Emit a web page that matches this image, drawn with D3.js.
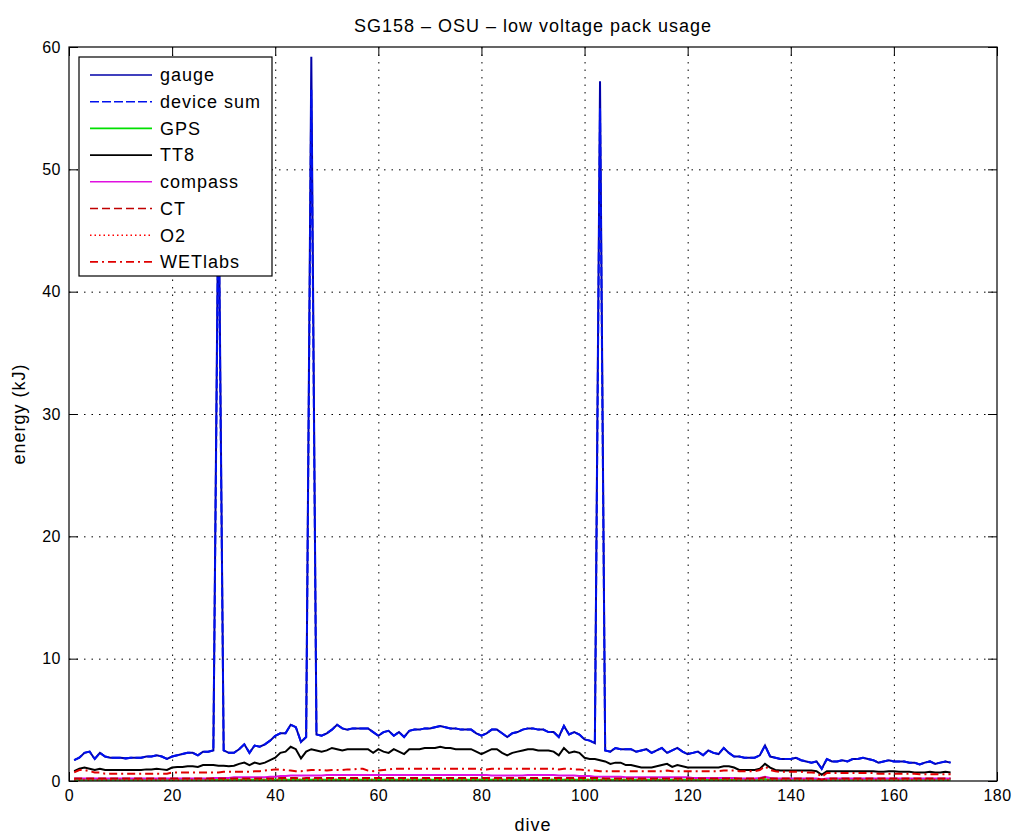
<!DOCTYPE html>
<html>
<head>
<meta charset="utf-8">
<script src="https://cdn.jsdelivr.net/npm/d3@7"></script>
<style>
  body { margin: 0; background: #fff; }
  svg { display: block; font-family: "Liberation Sans", Arial, sans-serif; }
  .tick text { font-size: 16px; fill: #000; letter-spacing: 0.5px; }
  .domain { display: none; }
  .tick line { stroke: #000; stroke-width: 1; }
</style>
</head>
<body>
<div id="chart"></div>
<script>
// dive numbers 1..171
const dives = d3.range(1, 172);

// energy (kJ) per dive
const gauge = [
  1.7, 1.9, 2.3, 2.4, 1.8, 2.3, 2.0, 1.9, 1.9, 1.9,
  1.85, 1.9, 1.9, 1.9, 2.0, 2.0, 2.1, 2.0, 1.8, 2.0,
  2.1, 2.2, 2.3, 2.3, 2.1, 2.4, 2.4, 2.5, 50, 2.5,
  2.3, 2.3, 2.6, 3.0, 2.3, 2.9, 2.8, 3.0, 3.3, 3.7,
  3.9, 3.9, 4.6, 4.4, 3.2, 3.6, 59.2, 3.8, 3.7, 3.9,
  4.2, 4.6, 4.3, 4.2, 4.3, 4.3, 4.3, 4.3, 4.0, 3.7,
  4.0, 4.1, 3.7, 4.0, 3.6, 4.1, 4.2, 4.2, 4.3, 4.3,
  4.4, 4.5, 4.4, 4.3, 4.3, 4.2, 4.2, 4.2, 3.9, 3.7,
  3.9, 4.2, 4.2, 3.9, 3.6, 3.9, 4.0, 4.2, 4.3, 4.3,
  4.2, 4.2, 4.0, 4.0, 3.6, 4.5, 3.8, 4.0, 3.8, 3.4,
  3.3, 3.1, 57.2, 2.5, 2.4, 2.7, 2.6, 2.6, 2.6, 2.4,
  2.5, 2.6, 2.3, 2.5, 2.7, 2.3, 2.5, 2.7, 2.4, 2.2,
  2.3, 2.4, 2.1, 2.5, 2.3, 2.2, 2.7, 2.3, 2.0, 2.0,
  1.9, 1.9, 1.9, 2.1, 2.9, 2.0, 1.9, 1.8, 1.8, 1.8,
  1.9, 1.7, 1.6, 1.5, 1.6, 1.0, 1.8, 1.6, 1.6, 1.7,
  1.6, 1.8, 1.8, 1.9, 1.8, 1.7, 1.5, 1.6, 1.7, 1.6,
  1.6, 1.6, 1.5, 1.5, 1.35, 1.5, 1.6, 1.4, 1.5, 1.6,
  1.5
];

const deviceSum = [
  1.7, 1.9, 2.3, 2.4, 1.8, 2.3, 2.0, 1.9, 1.9, 1.9,
  1.85, 1.9, 1.9, 1.9, 2.0, 2.0, 2.1, 2.0, 1.8, 2.0,
  2.1, 2.2, 2.3, 2.3, 2.1, 2.4, 2.4, 2.5, 48, 2.5,
  2.3, 2.3, 2.6, 3.0, 2.3, 2.9, 2.8, 3.0, 3.3, 3.7,
  3.9, 3.9, 4.6, 4.4, 3.2, 3.6, 56.5, 3.8, 3.7, 3.9,
  4.2, 4.6, 4.3, 4.2, 4.3, 4.3, 4.3, 4.3, 4.0, 3.7,
  4.0, 4.1, 3.7, 4.0, 3.6, 4.1, 4.2, 4.2, 4.3, 4.3,
  4.4, 4.5, 4.4, 4.3, 4.3, 4.2, 4.2, 4.2, 3.9, 3.7,
  3.9, 4.2, 4.2, 3.9, 3.6, 3.9, 4.0, 4.2, 4.3, 4.3,
  4.2, 4.2, 4.0, 4.0, 3.6, 4.5, 3.8, 4.0, 3.8, 3.4,
  3.3, 3.1, 55.0, 2.5, 2.4, 2.7, 2.6, 2.6, 2.6, 2.4,
  2.5, 2.6, 2.3, 2.5, 2.7, 2.3, 2.5, 2.7, 2.4, 2.2,
  2.3, 2.4, 2.1, 2.5, 2.3, 2.2, 2.7, 2.3, 2.0, 2.0,
  1.9, 1.9, 1.9, 2.1, 2.9, 2.0, 1.9, 1.8, 1.8, 1.8,
  1.9, 1.7, 1.6, 1.5, 1.6, 1.0, 1.8, 1.6, 1.6, 1.7,
  1.6, 1.8, 1.8, 1.9, 1.8, 1.7, 1.5, 1.6, 1.7, 1.6,
  1.6, 1.6, 1.5, 1.5, 1.35, 1.5, 1.6, 1.4, 1.5, 1.6,
  1.5
];

const gps = [
  0.1, 0.1, 0.1, 0.1, 0.1, 0.1, 0.1, 0.1, 0.1, 0.1,
  0.1, 0.1, 0.1, 0.1, 0.1, 0.1, 0.1, 0.1, 0.1, 0.1,
  0.1, 0.1, 0.1, 0.1, 0.1, 0.1, 0.1, 0.1, 0.1, 0.1,
  0.1, 0.1, 0.1, 0.1, 0.1, 0.1, 0.1, 0.1, 0.1, 0.1,
  0.1, 0.1, 0.1, 0.1, 0.1, 0.1, 0.1, 0.1, 0.1, 0.1,
  0.1, 0.1, 0.1, 0.1, 0.1, 0.1, 0.1, 0.1, 0.1, 0.1,
  0.1, 0.1, 0.1, 0.1, 0.1, 0.1, 0.1, 0.1, 0.1, 0.1,
  0.1, 0.1, 0.1, 0.1, 0.1, 0.1, 0.1, 0.1, 0.1, 0.1,
  0.1, 0.1, 0.1, 0.1, 0.1, 0.1, 0.1, 0.1, 0.1, 0.1,
  0.1, 0.1, 0.1, 0.1, 0.1, 0.1, 0.1, 0.1, 0.1, 0.1,
  0.1, 0.1, 0.1, 0.1, 0.1, 0.1, 0.1, 0.1, 0.1, 0.1,
  0.1, 0.1, 0.1, 0.1, 0.1, 0.1, 0.1, 0.1, 0.1, 0.1,
  0.1, 0.1, 0.1, 0.1, 0.1, 0.1, 0.1, 0.1, 0.1, 0.1,
  0.1, 0.1, 0.1, 0.1, 0.15, 0.1, 0.1, 0.1, 0.1, 0.1,
  0.1, 0.1, 0.1, 0.1, 0.1, 0.1, 0.1, 0.1, 0.1, 0.1,
  0.1, 0.1, 0.1, 0.1, 0.1, 0.1, 0.1, 0.1, 0.1, 0.1,
  0.1, 0.1, 0.1, 0.1, 0.1, 0.1, 0.1, 0.1, 0.1, 0.1,
  0.1
];

const tt8 = [
  0.8, 1.0, 1.1, 1.0, 0.9, 1.0, 0.9, 0.9, 0.9, 0.9,
  0.9, 0.9, 0.9, 0.9, 0.95, 0.95, 1.0, 0.95, 0.9, 1.1,
  1.15, 1.15, 1.2, 1.2, 1.15, 1.3, 1.3, 1.3, 1.25, 1.25,
  1.2, 1.25, 1.4, 1.5, 1.3, 1.5, 1.4, 1.5, 1.7, 1.9,
  2.3, 2.4, 2.8, 2.6, 1.85, 2.4, 2.6, 2.5, 2.4, 2.5,
  2.7, 2.6, 2.5, 2.6, 2.6, 2.6, 2.6, 2.6, 2.3, 2.6,
  2.4, 2.3, 2.6, 2.4, 2.2, 2.6, 2.6, 2.6, 2.7, 2.7,
  2.7, 2.8, 2.7, 2.7, 2.6, 2.6, 2.6, 2.6, 2.4, 2.2,
  2.4, 2.6, 2.6, 2.3, 2.1, 2.3, 2.4, 2.5, 2.6, 2.6,
  2.5, 2.5, 2.5, 2.4, 2.1, 2.7, 2.3, 2.4, 2.3, 1.9,
  1.8, 1.8, 1.7, 1.6, 1.4, 1.5, 1.5, 1.3, 1.3, 1.2,
  1.1, 1.1, 1.1, 1.2, 1.3, 1.4, 1.15, 1.3, 1.2, 1.1,
  1.1, 1.1, 1.1, 1.1, 1.1, 1.1, 1.2, 1.2, 1.1, 0.9,
  0.9, 0.9, 0.9, 1.0, 1.4, 1.1, 0.9, 0.85, 0.85, 0.85,
  0.85, 0.85, 0.85, 0.85, 0.8, 0.5, 0.8, 0.8, 0.8, 0.8,
  0.8, 0.8, 0.8, 0.8, 0.8, 0.8, 0.75, 0.75, 0.8, 0.8,
  0.75, 0.75, 0.75, 0.7, 0.7, 0.7, 0.75, 0.7, 0.7, 0.75,
  0.7
];

const compass = [
  0.2, 0.2, 0.2, 0.2, 0.2, 0.2, 0.2, 0.2, 0.2, 0.2,
  0.2, 0.2, 0.2, 0.2, 0.2, 0.2, 0.2, 0.2, 0.2, 0.2,
  0.2, 0.2, 0.2, 0.2, 0.2, 0.2, 0.2, 0.25, 0.25, 0.25,
  0.25, 0.3, 0.3, 0.3, 0.3, 0.3, 0.3, 0.3, 0.35, 0.35,
  0.4, 0.4, 0.45, 0.45, 0.45, 0.45, 0.45, 0.45, 0.45, 0.5,
  0.5, 0.5, 0.5, 0.5, 0.5, 0.5, 0.5, 0.5, 0.5, 0.5,
  0.5, 0.5, 0.5, 0.5, 0.5, 0.5, 0.5, 0.5, 0.5, 0.5,
  0.5, 0.5, 0.5, 0.5, 0.5, 0.5, 0.5, 0.5, 0.5, 0.5,
  0.5, 0.45, 0.45, 0.45, 0.45, 0.45, 0.45, 0.45, 0.5, 0.5,
  0.5, 0.5, 0.5, 0.5, 0.45, 0.45, 0.45, 0.45, 0.4, 0.4,
  0.4, 0.35, 0.35, 0.35, 0.35, 0.35, 0.35, 0.3, 0.3, 0.3,
  0.3, 0.3, 0.3, 0.3, 0.3, 0.3, 0.3, 0.3, 0.3, 0.3,
  0.25, 0.25, 0.25, 0.25, 0.25, 0.25, 0.25, 0.25, 0.25, 0.2,
  0.2, 0.2, 0.2, 0.25, 0.35, 0.25, 0.2, 0.2, 0.2, 0.2,
  0.2, 0.2, 0.2, 0.2, 0.2, 0.15, 0.2, 0.2, 0.2, 0.2,
  0.2, 0.2, 0.2, 0.2, 0.2, 0.2, 0.2, 0.2, 0.2, 0.2,
  0.2, 0.2, 0.2, 0.2, 0.2, 0.2, 0.2, 0.2, 0.2, 0.2,
  0.2
];

const ct = [
  0.2, 0.2, 0.2, 0.2, 0.2, 0.2, 0.2, 0.2, 0.2, 0.2,
  0.2, 0.2, 0.2, 0.2, 0.2, 0.2, 0.2, 0.2, 0.2, 0.2,
  0.2, 0.2, 0.2, 0.2, 0.2, 0.2, 0.2, 0.2, 0.2, 0.2,
  0.2, 0.2, 0.2, 0.2, 0.2, 0.2, 0.2, 0.2, 0.2, 0.2,
  0.25, 0.25, 0.25, 0.25, 0.2, 0.25, 0.25, 0.25, 0.25, 0.25,
  0.25, 0.25, 0.25, 0.25, 0.25, 0.25, 0.25, 0.25, 0.25, 0.25,
  0.25, 0.25, 0.25, 0.25, 0.25, 0.25, 0.25, 0.25, 0.25, 0.25,
  0.25, 0.25, 0.25, 0.25, 0.25, 0.25, 0.25, 0.25, 0.25, 0.25,
  0.25, 0.25, 0.25, 0.25, 0.25, 0.25, 0.25, 0.25, 0.25, 0.25,
  0.25, 0.25, 0.25, 0.25, 0.25, 0.25, 0.25, 0.25, 0.25, 0.25,
  0.25, 0.25, 0.25, 0.2, 0.2, 0.2, 0.2, 0.2, 0.2, 0.2,
  0.2, 0.2, 0.2, 0.2, 0.2, 0.2, 0.2, 0.2, 0.2, 0.2,
  0.2, 0.2, 0.2, 0.2, 0.2, 0.2, 0.2, 0.2, 0.2, 0.2,
  0.2, 0.2, 0.2, 0.2, 0.3, 0.2, 0.2, 0.2, 0.2, 0.2,
  0.2, 0.2, 0.2, 0.2, 0.2, 0.1, 0.2, 0.2, 0.2, 0.2,
  0.2, 0.2, 0.2, 0.2, 0.2, 0.2, 0.2, 0.2, 0.2, 0.2,
  0.2, 0.2, 0.2, 0.2, 0.2, 0.2, 0.2, 0.2, 0.2, 0.2,
  0.2
];

const o2 = [
  0.1, 0.1, 0.1, 0.1, 0.1, 0.1, 0.1, 0.1, 0.1, 0.1,
  0.1, 0.1, 0.1, 0.1, 0.1, 0.1, 0.1, 0.1, 0.1, 0.1,
  0.1, 0.1, 0.1, 0.1, 0.1, 0.1, 0.1, 0.1, 0.1, 0.1,
  0.1, 0.1, 0.1, 0.1, 0.1, 0.1, 0.1, 0.1, 0.1, 0.1,
  0.1, 0.1, 0.1, 0.1, 0.1, 0.1, 0.1, 0.1, 0.1, 0.1,
  0.1, 0.1, 0.1, 0.1, 0.1, 0.1, 0.1, 0.1, 0.1, 0.1,
  0.1, 0.1, 0.1, 0.1, 0.1, 0.1, 0.1, 0.1, 0.1, 0.1,
  0.1, 0.1, 0.1, 0.1, 0.1, 0.1, 0.1, 0.1, 0.1, 0.1,
  0.1, 0.1, 0.1, 0.1, 0.1, 0.1, 0.1, 0.1, 0.1, 0.1,
  0.1, 0.1, 0.1, 0.1, 0.1, 0.1, 0.1, 0.1, 0.1, 0.1,
  0.1, 0.1, 0.1, 0.1, 0.1, 0.1, 0.1, 0.1, 0.1, 0.1,
  0.1, 0.1, 0.1, 0.1, 0.1, 0.1, 0.1, 0.1, 0.1, 0.1,
  0.1, 0.1, 0.1, 0.1, 0.1, 0.1, 0.1, 0.1, 0.1, 0.1,
  0.1, 0.1, 0.1, 0.1, 0.1, 0.1, 0.1, 0.1, 0.1, 0.1,
  0.1, 0.1, 0.1, 0.1, 0.1, 0.1, 0.1, 0.1, 0.1, 0.1,
  0.1, 0.1, 0.1, 0.1, 0.1, 0.1, 0.1, 0.1, 0.1, 0.1,
  0.1, 0.1, 0.1, 0.1, 0.1, 0.1, 0.1, 0.1, 0.1, 0.1,
  0.1
];

const wetlabs = [
  0.7, 0.9, 0.9, 0.8, 0.7, 0.7, 0.6, 0.6, 0.6, 0.6,
  0.6, 0.6, 0.6, 0.6, 0.6, 0.6, 0.6, 0.6, 0.6, 0.7,
  0.7, 0.7, 0.7, 0.7, 0.7, 0.7, 0.7, 0.7, 0.7, 0.75,
  0.75, 0.75, 0.75, 0.75, 0.75, 0.8, 0.8, 0.85, 0.9, 0.95,
  0.95, 0.9, 0.85, 0.8, 0.8, 0.85, 0.9, 0.9, 0.9, 0.85,
  0.9, 0.9, 0.9, 0.95, 0.95, 1.0, 1.0, 0.85, 0.8, 0.85,
  0.9, 0.95, 1.0, 1.0, 1.0, 1.0, 1.0, 1.0, 1.0, 1.0,
  1.0, 1.0, 1.0, 1.0, 1.0, 1.0, 1.0, 1.0, 1.0, 0.95,
  0.95, 1.0, 1.0, 1.0, 1.0, 1.0, 1.0, 1.0, 1.0, 1.0,
  1.0, 1.0, 1.0, 1.0, 0.95, 1.0, 1.0, 0.95, 0.95, 0.9,
  0.85, 0.85, 0.8, 0.8, 0.8, 0.8, 0.8, 0.8, 0.8, 0.8,
  0.8, 0.8, 0.8, 0.8, 0.8, 0.85, 0.8, 0.8, 0.8, 0.8,
  0.8, 0.8, 0.8, 0.8, 0.8, 0.8, 0.85, 0.85, 0.85, 0.8,
  0.8, 0.8, 0.8, 0.9, 1.2, 0.9, 0.8, 0.75, 0.75, 0.75,
  0.75, 0.75, 0.7, 0.7, 0.65, 0.35, 0.65, 0.65, 0.65, 0.65,
  0.65, 0.65, 0.65, 0.65, 0.65, 0.65, 0.6, 0.6, 0.6, 0.6,
  0.6, 0.6, 0.6, 0.6, 0.55, 0.55, 0.55, 0.55, 0.55, 0.55,
  0.55
];

const xTicks = d3.range(0, 181, 20);
const yTicks = d3.range(0, 61, 10);

const series = [
  { name: "gauge",      values: gauge,     color: "#0000a8", dash: null },
  { name: "device sum", values: deviceSum, color: "#0010ee", dash: "9,3" },
  { name: "GPS",        values: gps,       color: "#00e000", dash: null },
  { name: "TT8",        values: tt8,       color: "#000000", dash: null },
  { name: "compass",    values: compass,   color: "#e010e0", dash: null },
  { name: "CT",         values: ct,        color: "#c00000", dash: "8,4" },
  { name: "O2",         values: o2,        color: "#ff0000", dash: "1.5,3" },
  { name: "WETlabs",    values: wetlabs,   color: "#e00000", dash: "8,4,2,4" }
];

const W = 1022, H = 839;
const mLeft = 69, mRight = 997, mTop = 47, mBottom = 781;

const x = d3.scaleLinear().domain([0, 180]).range([mLeft, mRight]);
const y = d3.scaleLinear().domain([0, 60]).range([mBottom, mTop]);

const svg = d3.select("#chart").append("svg")
  .attr("width", W)
  .attr("height", H);

// grid
const grid = svg.append("g").attr("stroke", "#000").attr("stroke-width", 1)
  .attr("stroke-dasharray", "1.5,6");
grid.selectAll(".gx").data(xTicks.slice(1, -1)).join("line")
  .attr("x1", d => x(d) + 0.5).attr("x2", d => x(d) + 0.5)
  .attr("y1", mTop).attr("y2", mBottom);
grid.selectAll(".gy").data(yTicks.slice(1, -1)).join("line")
  .attr("y1", d => y(d) + 0.5).attr("y2", d => y(d) + 0.5)
  .attr("x1", mLeft).attr("x2", mRight);

// axes, ticks pointing inward on all four sides
svg.append("g").attr("transform", `translate(0,${mBottom})`)
  .call(d3.axisBottom(x).tickValues(xTicks).tickSize(-9).tickPadding(9));
svg.append("g").attr("transform", `translate(0,${mTop})`)
  .call(d3.axisTop(x).tickValues(xTicks).tickSize(-9).tickFormat(""));
svg.append("g").attr("transform", `translate(${mLeft},0)`)
  .call(d3.axisLeft(y).tickValues(yTicks).tickSize(-9).tickPadding(8));
svg.append("g").attr("transform", `translate(${mRight},0)`)
  .call(d3.axisRight(y).tickValues(yTicks).tickSize(-9).tickFormat(""));

// lines
const line = d3.line()
  .x((d, i) => x(dives[i]))
  .y(d => y(d));

const plot = svg.append("g");
series.forEach(s => {
  plot.append("path")
    .datum(s.values)
    .attr("fill", "none")
    .attr("stroke", s.color)
    .attr("stroke-width", 2)
    .attr("stroke-dasharray", s.dash)
    .attr("d", line);
});

// frame
svg.append("rect")
  .attr("x", mLeft).attr("y", mTop)
  .attr("width", mRight - mLeft).attr("height", mBottom - mTop)
  .attr("fill", "none").attr("stroke", "#000").attr("stroke-width", 1.2);

// legend
const legend = svg.append("g");
legend.append("rect")
  .attr("x", 79).attr("y", 57).attr("width", 193).attr("height", 219)
  .attr("fill", "#fff").attr("stroke", "#000").attr("stroke-width", 1.2);
const entry = legend.selectAll(".entry").data(series).join("g")
  .attr("transform", (d, i) => `translate(0,${75 + i * 26.7})`);
entry.append("line")
  .attr("x1", 90).attr("x2", 152)
  .attr("stroke", d => d.color)
  .attr("stroke-width", 1.6)
  .attr("stroke-dasharray", d => d.dash);
entry.append("text")
  .attr("x", 160).attr("dy", "0.35em")
  .attr("font-size", 18).attr("letter-spacing", 1)
  .text(d => d.name);

// title and axis labels
svg.append("text")
  .attr("x", (mLeft + mRight) / 2).attr("y", 32)
  .attr("text-anchor", "middle").attr("font-size", 18).attr("letter-spacing", 1)
  .text("SG158 – OSU – low voltage pack usage");
svg.append("text")
  .attr("x", (mLeft + mRight) / 2).attr("y", 831)
  .attr("text-anchor", "middle").attr("font-size", 18).attr("letter-spacing", 1)
  .text("dive");
svg.append("text")
  .attr("transform", `translate(25,${(mTop + mBottom) / 2}) rotate(-90)`)
  .attr("text-anchor", "middle").attr("font-size", 18).attr("letter-spacing", 1)
  .text("energy (kJ)");
</script>
</body>
</html>
